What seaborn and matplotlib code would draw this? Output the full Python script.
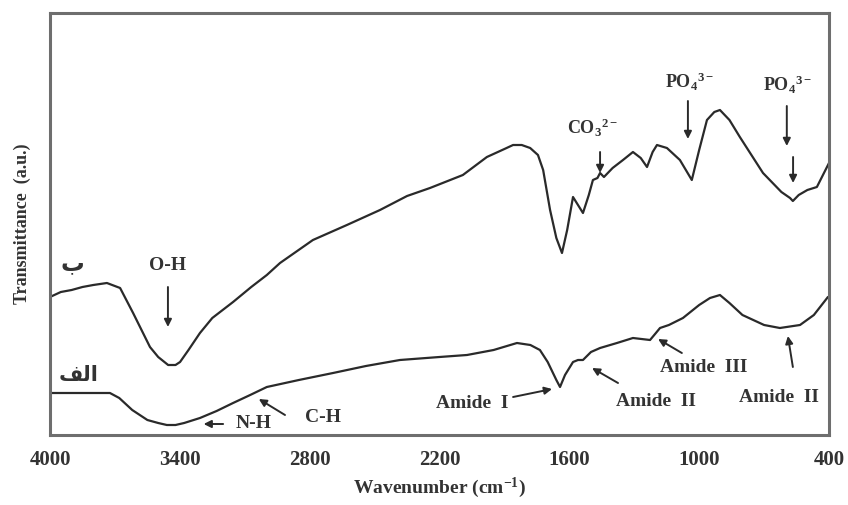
import numpy as np
import pandas as pd
import matplotlib
matplotlib.use("Agg")
import matplotlib.pyplot as plt
import seaborn as sns

# ---- data (wavenumber in cm^-1, transmittance in arbitrary units) ----
wn_b = [4000, 3950, 3900, 3850, 3800, 3737, 3676, 3616, 3538, 3500, 3454, 3420,
        3399, 3360, 3307, 3250, 3154, 3070, 2998, 2937, 2785, 2628, 2475, 2350,
        2244, 2092, 1981, 1900, 1860, 1820, 1781, 1745, 1721, 1689, 1660, 1634,
        1610, 1583, 1560, 1537, 1510, 1491, 1470, 1458, 1440, 1400, 1352, 1306,
        1270, 1241, 1215, 1195, 1149, 1089, 1034, 1000, 964, 930, 904, 860, 812,
        705, 620, 580, 567, 540, 500, 456, 400]
tr_b = [138, 143, 145, 148, 150, 152, 147, 122, 88, 78, 70, 70,
        73, 85, 102, 117, 133, 148, 160, 172, 195, 210, 225, 239,
        247, 260, 278, 286, 290, 290, 287, 280, 265, 225, 197, 182,
        205, 238, 230, 222, 240, 255, 257, 262, 258, 267, 275, 283,
        277, 268, 283, 290, 287, 275, 255, 285, 315, 323, 325, 315, 298,
        262, 243, 237, 234, 240, 245, 248, 272]

wn_a = [4000, 3850, 3723, 3680, 3620, 3550, 3500, 3460, 3420, 3380, 3307, 3230,
        3154, 3075, 2998, 2850, 2692, 2540, 2383, 2200, 2073, 1950, 1842, 1780,
        1736, 1700, 1660, 1643, 1620, 1583, 1560, 1537, 1500, 1458, 1380, 1306,
        1227, 1200, 1181, 1140, 1075, 1000, 950, 904, 860, 800, 700, 627, 534,
        470, 405]
tr_a = [42, 42, 42, 37, 25, 15, 12, 10, 10, 12, 17, 24,
        32, 40, 48, 55, 62, 69, 75, 78, 80, 85, 92, 90,
        85, 73, 55, 48, 60, 73, 75, 75, 83, 87, 92, 97,
        95, 102, 107, 110, 117, 130, 137, 140, 132, 120, 110, 107, 110,
        120, 138]

xticks = [4000, 3400, 2800, 2200, 1600, 1000, 400]

df = pd.concat([
    pd.DataFrame({"wavenumber": wn_b, "transmittance": tr_b, "sample": "b"}),
    pd.DataFrame({"wavenumber": wn_a, "transmittance": tr_a, "sample": "a"}),
])

sns.set_theme(style="white")
plt.rcParams["font.family"] = ["Liberation Serif", "DejaVu Sans"]
plt.rcParams["font.weight"] = "bold"
plt.rcParams["mathtext.fontset"] = "custom"
plt.rcParams["mathtext.rm"] = "Liberation Serif:bold"
plt.rcParams["mathtext.it"] = "Liberation Serif:bold"
plt.rcParams["mathtext.bf"] = "Liberation Serif:bold"
plt.rcParams["mathtext.default"] = "rm"
plt.rcParams["lines.solid_joinstyle"] = "round"

fig = plt.figure(figsize=(8.48, 5.05), dpi=100)
ax = fig.add_axes([50 / 848, 70 / 505, 779 / 848, 422 / 505])

sns.lineplot(data=df, x="wavenumber", y="transmittance", units="sample",
             estimator=None, sort=False, color="#2a2a2a", linewidth=1.6, ax=ax)

ax.set_xlim(4000, 400)
ax.set_ylim(0, 422)
ax.set_xticks(xticks)
ax.set_xticklabels([str(t) for t in xticks], fontsize=15, fontweight="bold",
                   color="#333333")
ax.set_yticks([])
ax.tick_params(axis="x", direction="out", length=3, width=1, color="#888888",
               pad=8)
for s in ax.spines.values():
    s.set_color("#6e6e6e")
    s.set_linewidth(2.2)

ax.set_xlabel("Wavenumber (cm$^{-1}$)", fontsize=14, fontweight="bold",
              color="#333333", labelpad=4)
ax.set_ylabel("Transmittance  (a.u.)", fontsize=13, fontweight="bold",
              color="#333333", labelpad=14)

txt = dict(color="#333333", fontweight="bold", ha="center", va="center")
arrow = dict(arrowstyle="-|>", color="#2a2a2a", lw=1.4, mutation_scale=11,
             shrinkA=0, shrinkB=0)

# sample labels (Arabic)
ax.text(3897, 172, "\u0628", fontsize=17, family=["DejaVu Sans"],
        fontweight="bold", color="#333333", ha="center", va="center")
ax.text(3870, 60, "\uFED2\uFEDF\uFE8D", fontsize=15, family=["DejaVu Sans"],
        fontweight="bold", color="#333333", ha="center", va="center")

# upper curve annotations
ax.text(3455, 170, "O-H", fontsize=14, **txt)
ax.annotate("", xy=(3455, 108), xytext=(3455, 148), arrowprops=arrow)
ax.text(1491, 307, "CO$_3$$^{2-}$", fontsize=13, **txt)
ax.annotate("", xy=(1458, 262), xytext=(1458, 283), arrowprops=arrow)
ax.text(1043, 353, "PO$_4$$^{3-}$", fontsize=13, **txt)
ax.annotate("", xy=(1052, 296), xytext=(1052, 334), arrowprops=arrow)
ax.text(590, 350, "PO$_4$$^{3-}$", fontsize=13, **txt)
ax.annotate("", xy=(595, 289), xytext=(595, 329), arrowprops=arrow)
ax.annotate("", xy=(566, 252), xytext=(566, 278), arrowprops=arrow)

# lower curve annotations
ax.text(3060, 12, "N-H", fontsize=14, **txt)
ax.annotate("", xy=(3290, 11), xytext=(3200, 11), arrowprops=arrow)
ax.text(2738, 17, "C-H", fontsize=14, **txt)
ax.annotate("", xy=(3035, 36), xytext=(2914, 20), arrowprops=arrow)
ax.text(2050, 32, "Amide  I", fontsize=14, **txt)
ax.annotate("", xy=(1680, 46), xytext=(1860, 38), arrowprops=arrow)
ax.text(1200, 33, "Amide  II", fontsize=14, **txt)
ax.annotate("", xy=(1495, 67), xytext=(1375, 52), arrowprops=arrow)
ax.text(978, 67, "Amide  III", fontsize=14, **txt)
ax.annotate("", xy=(1190, 96), xytext=(1080, 82), arrowprops=arrow)
ax.text(631, 38, "Amide  II", fontsize=14, **txt)
ax.annotate("", xy=(590, 99), xytext=(567, 68), arrowprops=arrow)

fig.savefig("out.png", dpi=100, facecolor="white")
